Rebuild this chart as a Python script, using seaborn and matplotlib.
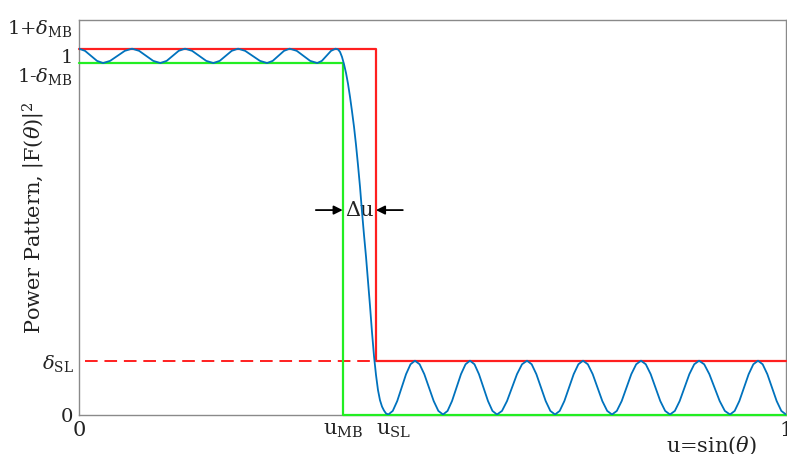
import numpy as np
import matplotlib
matplotlib.use("Agg")
import matplotlib.pyplot as plt
import seaborn as sns

# --- levels and band edges ---
d_mb = 0.02        # main-beam ripple
d_sl = 0.15        # side-lobe level
u_mb = 0.373       # main-beam edge
u_sl = 0.42        # side-lobe edge
y_top = 1.1

x_ticks = [0.0, u_mb, u_sl, 1.0]
x_labels = ["0", r"u$_{\mathrm{MB}}$", r"u$_{\mathrm{SL}}$", "1"]
y_ticks = [0.0, d_sl, 1.0]
y_labels = ["0", r"$\delta_{\mathrm{SL}}$", "1"]

# --- power pattern ---
u_pass = [0.0, 0.0085, 0.017, 0.0255, 0.034,
          0.044, 0.0545, 0.0648, 0.075,
          0.085, 0.095, 0.105, 0.115,
          0.124, 0.1325, 0.141, 0.150,
          0.160, 0.170, 0.180, 0.190,
          0.199, 0.2075, 0.216, 0.225,
          0.235, 0.2455, 0.256, 0.266,
          0.274, 0.282, 0.290, 0.298,
          0.308, 0.3175, 0.327, 0.337,
          0.3435, 0.350, 0.3565, 0.363]
p_pass = [1.02, 1.014, 1.0, 0.986, 0.98,
          0.986, 1.0, 1.014, 1.02,
          1.014, 1.0, 0.986, 0.98,
          0.986, 1.0, 1.014, 1.02,
          1.014, 1.0, 0.986, 0.98,
          0.986, 1.0, 1.014, 1.02,
          1.014, 1.0, 0.986, 0.98,
          0.986, 1.0, 1.014, 1.02,
          1.014, 1.0, 0.986, 0.98,
          0.986, 1.0, 1.014, 1.02]

u_trans = [0.3663, 0.3692, 0.3720, 0.3748, 0.3777, 0.3805, 0.3833, 0.3861,
           0.3890, 0.3918, 0.3946, 0.3975, 0.4003, 0.4031, 0.4060, 0.4088,
           0.4116, 0.4144, 0.4173, 0.4201, 0.4229, 0.4257, 0.4286, 0.4314,
           0.4342, 0.4375]
p_trans = [1.018, 1.011, 0.997, 0.977, 0.952, 0.922, 0.886, 0.846,
           0.802, 0.752, 0.696, 0.634, 0.565, 0.501, 0.439, 0.372,
           0.303, 0.230, 0.162, 0.110, 0.068, 0.040, 0.022, 0.011,
           0.003, 0.0]

u_side = [0.4438, 0.4501, 0.4564, 0.4626, 0.4689, 0.4752,
          0.4818, 0.4884, 0.4951, 0.5017, 0.5083, 0.5149,
          0.5213, 0.5276, 0.5340, 0.5403, 0.5467, 0.5530,
          0.5594, 0.5657, 0.5721, 0.5785, 0.5848, 0.5912,
          0.5983, 0.6054, 0.6125, 0.6195, 0.6266, 0.6337,
          0.6403, 0.6469, 0.6535, 0.6601, 0.6667, 0.6733,
          0.6799, 0.6865, 0.6931, 0.6997, 0.7063, 0.7129,
          0.7197, 0.7266, 0.7334, 0.7402, 0.7471, 0.7539,
          0.7607, 0.7676, 0.7744, 0.7812, 0.7881, 0.7949,
          0.8017, 0.8086, 0.8154, 0.8222, 0.8291, 0.8359,
          0.8428, 0.8496, 0.8565, 0.8633, 0.8702, 0.8770,
          0.8843, 0.8916, 0.8989, 0.9062, 0.9135, 0.9208,
          0.9274, 0.9340, 0.9406, 0.9472, 0.9538, 0.9604,
          0.9670, 0.9736, 0.9802, 0.9868, 0.9934, 1.0]
p_side = [0.010, 0.0375, 0.075, 0.1125, 0.140, 0.15,
          0.140, 0.1125, 0.075, 0.0375, 0.010, 0.0,
          0.010, 0.0375, 0.075, 0.1125, 0.140, 0.15,
          0.140, 0.1125, 0.075, 0.0375, 0.010, 0.0,
          0.010, 0.0375, 0.075, 0.1125, 0.140, 0.15,
          0.140, 0.1125, 0.075, 0.0375, 0.010, 0.0,
          0.010, 0.0375, 0.075, 0.1125, 0.140, 0.15,
          0.140, 0.1125, 0.075, 0.0375, 0.010, 0.0,
          0.010, 0.0375, 0.075, 0.1125, 0.140, 0.15,
          0.140, 0.1125, 0.075, 0.0375, 0.010, 0.0,
          0.010, 0.0375, 0.075, 0.1125, 0.140, 0.15,
          0.140, 0.1125, 0.075, 0.0375, 0.010, 0.0,
          0.010, 0.0375, 0.075, 0.1125, 0.140, 0.15,
          0.140, 0.1125, 0.075, 0.0375, 0.010, 0.0]

# upper / lower mask
u_upper = [0.0, u_sl, u_sl, 1.0]
p_upper = [1 + d_mb, 1 + d_mb, d_sl, d_sl]
u_lower = [0.0, u_mb, u_mb, 1.0]
p_lower = [1 - d_mb, 1 - d_mb, 0.0, 0.0]
u_dash = [0.008, u_sl]
p_dash = [d_sl, d_sl]

sns.set_theme(style="white")
plt.rcParams["font.family"] = ["DejaVu Serif"]
plt.rcParams["mathtext.fontset"] = "dejavuserif"

RED = "#ff1f1f"
GREEN = "#22ee22"
BLUE = "#0072bd"
GRAY = "#8a8a8a"
TXT = "#222222"
FS = 15
FS_TICK = 14

fig = plt.figure(figsize=(7.87, 4.54), dpi=100)
ax = fig.add_axes([79 / 787, 39.5 / 454, 707 / 787, 394.5 / 454])

u_all = np.concatenate([u_pass, u_trans, u_side])
p_all = np.concatenate([p_pass, p_trans, p_side])
sns.lineplot(x=u_all, y=p_all, ax=ax, color=BLUE, lw=1.3,
             sort=False, estimator=None, zorder=4)

ax.plot(u_upper, p_upper, color=RED, lw=1.6, zorder=3, clip_on=False)
ax.plot(u_dash, p_dash, color=RED, lw=1.4, dashes=(6.5, 3.5), zorder=3)
ax.plot(u_lower, p_lower, color=GREEN, lw=1.6, zorder=3, clip_on=False)

ax.set_xlim(0, 1)
ax.set_ylim(0, y_top)

ax.set_xticks(x_ticks)
ax.set_xticklabels(x_labels, fontsize=FS)
ax.set_yticks(y_ticks)
ax.set_yticklabels(y_labels, fontsize=FS_TICK)
ax.get_xticklabels()[2].set_horizontalalignment("left")
ax.tick_params(axis="both", direction="in", length=3, width=1,
               color=GRAY, labelcolor=TXT)
ax.tick_params(axis="x", pad=5)
ax.tick_params(axis="y", pad=4)

for s in ax.spines.values():
    s.set_color(GRAY)
    s.set_linewidth(1.0)
    s.set_visible(True)

# extra level labels on the y axis
tr = ax.get_yaxis_transform()
ax.text(-0.009, y_top + 0.005, r"1+$\delta_{\mathrm{MB}}$", transform=tr,
        ha="right", va="top", fontsize=FS_TICK, color=TXT)
ax.text(-0.009, 1 - d_mb - 0.008, r"1-$\delta_{\mathrm{MB}}$", transform=tr,
        ha="right", va="top", fontsize=FS_TICK, color=TXT)

ax.set_ylabel(r"Power Pattern, $\left|\mathrm{F}(\theta)\right|^2$",
              fontsize=FS, color=TXT)
ax.yaxis.set_label_coords(-0.045, 0.5)
ax.set_xlabel(r"u=sin($\theta$)", fontsize=FS, color=TXT)
ax.xaxis.set_label_coords(0.894, -0.05)

# transition width marker
y_arr = 0.57
arr = dict(arrowstyle="-|>", color="black", lw=1.3, mutation_scale=13,
           shrinkA=0, shrinkB=0)
ax.annotate("", xy=(u_mb, y_arr), xytext=(0.335, y_arr), arrowprops=arr)
ax.annotate("", xy=(u_sl, y_arr), xytext=(0.458, y_arr), arrowprops=arr)
ax.text((u_mb + u_sl) / 2, y_arr, "Δu", ha="center", va="center",
        fontsize=FS, color=TXT)

fig.savefig("out.png", dpi=100)
